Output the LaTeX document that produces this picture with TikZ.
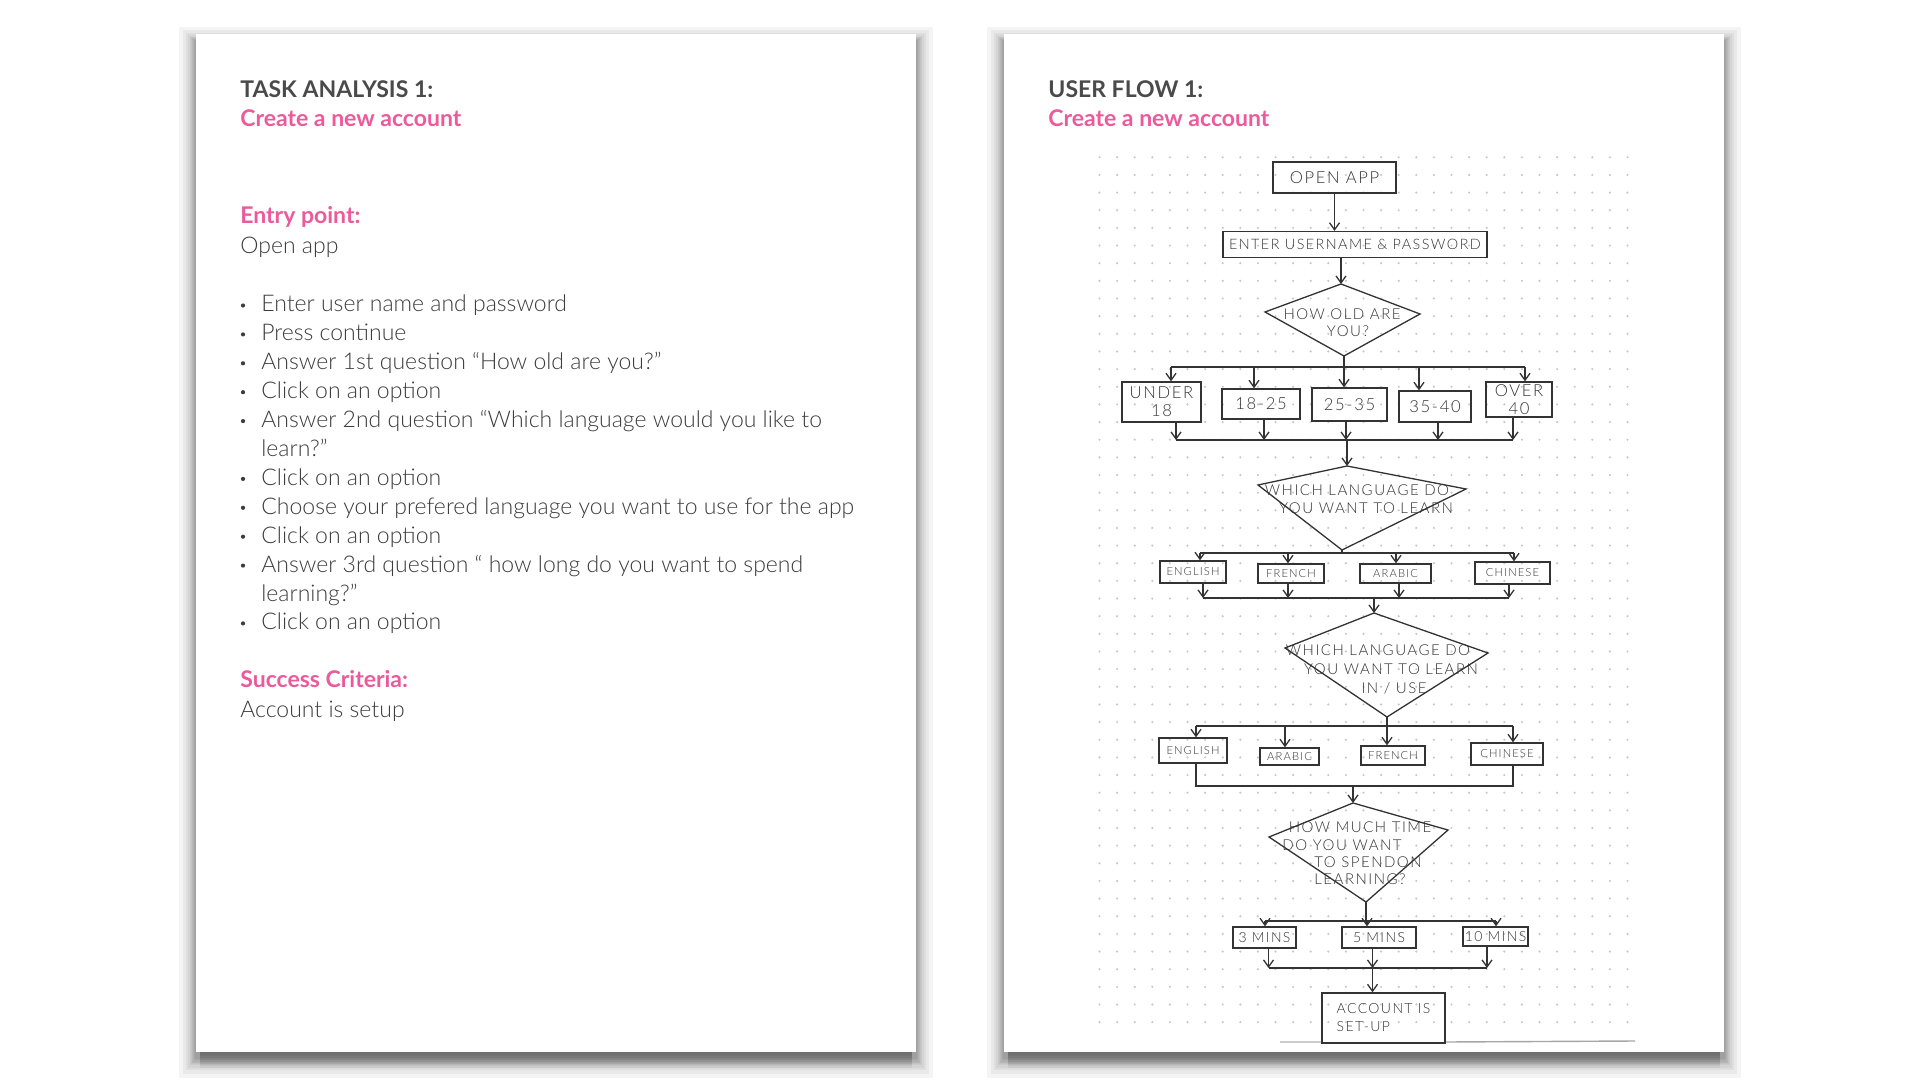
\documentclass[tikz,border=0pt]{standalone}
\usepackage{fontspec}
\IfFontExistsTF{Lato Light}{\setmainfont{Lato}[UprightFont={* Light},BoldFont={* Bold}]\newfontfamily\hand{Lato}[UprightFont={* Light},LetterSpace=10]}{\setmainfont{Lato}\newfontfamily\hand{Lato}[LetterSpace=10]}
\usetikzlibrary{arrows.meta,calc}
\definecolor{pinkc}{HTML}{EC5A9C}
\definecolor{headc}{HTML}{4A4A4A}
\definecolor{bodyc}{HTML}{3C3C3C}
\definecolor{penc}{HTML}{333333}
\definecolor{dotc}{HTML}{C8C8C8}
\begin{document}
\begin{tikzpicture}[x=0.5pt,y=-0.5pt,
  head/.style={anchor=base west,inner sep=0,font=\bfseries\fontsize{11.5}{14}\selectfont,text=headc},
  pinkhead/.style={anchor=base west,inner sep=0,font=\bfseries\fontsize{11.5}{14}\selectfont,text=pinkc},
  body/.style={anchor=base west,inner sep=0,font=\fontsize{11.5}{14}\selectfont,text=bodyc},
  bul/.style={circle,fill=bodyc,inner sep=0,minimum size=2.1pt},
  hand/.style={font=\hand\fontsize{7.5}{8.5}\selectfont,text=penc,inner sep=0},
  fbox/.style={draw=penc,line width=0.65pt,inner sep=0,font=\hand\fontsize{7.2}{8.5}\selectfont,text=penc,align=center},
  agebox/.style={fbox,font=\hand\fontsize{8.3}{9}\selectfont},
  sbox/.style={fbox,font=\hand\fontsize{5.6}{7}\selectfont},
  tbox/.style={fbox,font=\hand\fontsize{7}{8}\selectfont},
  pen/.style={draw=penc,line width=0.65pt},
  arr/.style={pen,-{Straight Barb[length=3.5pt,width=5pt]}}
]
\useasboundingbox (0,0) rectangle (1920,1080);
\fill[white] (0,0) rectangle (1920,1080);

% card shadows and cards
\foreach \cx in {196,1004}{
  \foreach \e in {17,13,10,8,6,5,4,3,2,1}
    \fill[black,opacity=0.045] ({\cx-\e},{42-0.9*\e}) rectangle ({\cx+720+\e},{1058+1.2*\e});
  \foreach \e in {1,...,8}
    \fill[black,opacity=0.045] ({\cx+4},1052) rectangle ({\cx+716},{1052+2*\e});
  \fill[white] (\cx,34) rectangle ({\cx+720},1052);
}

% ---------- left card ----------
\node[head] (ta) at (240,98) {TASK ANALYSIS 1:};
\node[pinkhead] (ta2) at (240,127) {Create a new account};
\node[pinkhead] (ep) at (240,224) {Entry point:};
\node[body] (oa) at (240,254) {Open app};
\foreach \k in {0,1,2,3,4,6,7,8,9,11}
  \node[bul] (b\k) at (243,{312+28.9*\k-6.5}) {};
\node[body] (l0) at (261,312) {Enter user name and password};
\node[body] (l1) at (261,340.9) {Press continue};
\node[body] (l2) at (261,369.8) {Answer 1st question “How old are you?”};
\node[body] (l3) at (261,398.7) {Click on an option};
\node[body] (l4) at (261,427.6) {Answer 2nd question “Which language would you like to};
\node[body] (l5) at (261,456.5) {learn?”};
\node[body] (l6) at (261,485.4) {Click on an option};
\node[body] (l7) at (261,514.3) {Choose your prefered language you want to use for the app};
\node[body] (l8) at (261,543.2) {Click on an option};
\node[body] (l9) at (261,572.1) {Answer 3rd question “ how long do you want to spend};
\node[body] (l10) at (261,601) {learning?”};
\node[body] (l11) at (261,629.9) {Click on an option};
\node[pinkhead] (sc) at (240,687) {Success Criteria:};
\node[body] (as) at (240,717) {Account is setup};

% ---------- right card ----------
\node[head] (uf) at (1048,98) {USER FLOW 1:};
\node[pinkhead] (uf2) at (1048,127) {Create a new account};

% dot grid
\foreach \i in {0,...,30}
  \foreach \j in {0,...,49}
    \fill[dotc] ({1099.5+17.6*\i},{157.3+17.65*\j}) circle[radius=0.6pt];
\draw[black!20,line width=0.7pt] (1280,1042) -- (1322,1042);
\draw[black!35,line width=0.7pt] (1445,1042) -- (1635,1041);

% boxes
\node[fbox,font=\hand\fontsize{8.3}{9}\selectfont,minimum width=61.5pt,minimum height=15.5pt] (open) at (1334.5,177.5) {OPEN APP};
\node[fbox,minimum width=132pt,minimum height=13pt] (enter) at (1355,244.5) {ENTER USERNAME \& PASSWORD};
\node[agebox,minimum width=39.5pt,minimum height=20pt] (u18) at (1161.5,402) {UNDER\\18};
\node[agebox,minimum width=39pt,minimum height=15pt] (a1825) at (1261,404) {18-25};
\node[agebox,minimum width=37.5pt,minimum height=16.5pt] (a2535) at (1349.5,404.5) {25-35};
\node[agebox,minimum width=36pt,minimum height=15.5pt] (a3540) at (1435,406.5) {35-40};
\node[agebox,minimum width=33pt,minimum height=17.5pt] (o40) at (1519,399.5) {OVER\\40};
\node[sbox,minimum width=33pt,minimum height=11pt] (eng1) at (1193,572) {ENGLISH};
\node[sbox,minimum width=33pt,minimum height=9.5pt] (fre1) at (1291,573.5) {FRENCH};
\node[sbox,minimum width=35.5pt,minimum height=9.5pt] (ara1) at (1395.5,573.5) {ARABIC};
\node[sbox,minimum width=37.5pt,minimum height=11pt] (chi1) at (1512.5,573) {CHINESE};
\node[sbox,minimum width=34pt,minimum height=12.5pt] (eng2) at (1193,750.5) {ENGLISH};
\node[sbox,minimum width=29.5pt,minimum height=8.5pt] (ara2) at (1289.5,756.5) {ARABIC};
\node[sbox,minimum width=32pt,minimum height=9.5pt] (fre2) at (1393,755.5) {FRENCH};
\node[sbox,minimum width=36pt,minimum height=11pt] (chi2) at (1507,754) {CHINESE};
\node[tbox,minimum width=31.5pt,minimum height=10.5pt] (m3) at (1264.5,937.5) {3 MINS};
\node[tbox,minimum width=37pt,minimum height=10.5pt] (m5) at (1379,937.5) {5 MINS};
\node[tbox,minimum width=32.5pt,minimum height=9.5pt] (m10) at (1495.5,936.5) {10 MINS};
\node[fbox,font=\hand\fontsize{7}{9}\selectfont,minimum width=61.5pt,minimum height=25pt,align=left] (acc) at (1383.5,1018) {ACCOUNT IS\\SET-UP};

% diamonds
\coordinate (d1t) at (1341,284); \coordinate (d1r) at (1420,314);
\coordinate (d1b) at (1344,356); \coordinate (d1l) at (1265,312);
\draw[pen] (d1t) -- (d1r) -- (d1b) -- (d1l) -- cycle;
\node[hand] (q1a) at (1342,314) {HOW OLD ARE};
\node[hand] (q1b) at (1348,331) {YOU?};

\coordinate (d2t) at (1347,466); \coordinate (d2r) at (1466,489);
\coordinate (d2b) at (1342,550); \coordinate (d2l) at (1258,485);
\draw[pen] (d2t) -- (d2r) -- (d2b) -- (d2l) -- cycle;
\node[hand] (q2a) at (1357,490) {WHICH LANGUAGE DO};
\node[hand] (q2b) at (1366,508) {YOU WANT TO LEARN};

\coordinate (d3t) at (1374,613); \coordinate (d3r) at (1488,653);
\coordinate (d3b) at (1387,717); \coordinate (d3l) at (1285,648);
\draw[pen] (d3t) -- (d3r) -- (d3b) -- (d3l) -- cycle;
\node[hand] (q3a) at (1378,650) {WHICH LANGUAGE DO};
\node[hand] (q3b) at (1391,669) {YOU WANT TO LEARN};
\node[hand] (q3c) at (1394,688) {IN / USE};

\coordinate (d4t) at (1353,803); \coordinate (d4r) at (1448,830);
\coordinate (d4b) at (1366,902); \coordinate (d4l) at (1269,837);
\draw[pen] (d4t) -- (d4r) -- (d4b) -- (d4l) -- cycle;
\node[hand] (q4a) at (1360,827) {HOW MUCH TIME};
\node[hand] (q4b) at (1342,845) {DO YOU WANT};
\node[hand] (q4c) at (1368,862) {TO SPENDON};
\node[hand] (q4d) at (1360,879) {LEARNING?};

% connectors
\draw[arr] (open.south) -- (open.south |- enter.north);
\draw[arr] (d1t |- enter.south) -- (d1t);

% ages
\coordinate (j1) at (1344,367);
\coordinate (j1a) at (1171,367); \coordinate (j1b) at (1254,367);
\coordinate (j1c) at (1344,367); \coordinate (j1d) at (1419,367);
\coordinate (j1e) at (1525,367);
\draw[pen] (d1b) -- (j1);
\draw[pen] (j1a) -- (j1e);
\draw[arr] (j1a) -- (j1a |- u18.north);
\draw[arr] (j1b) -- (j1b |- a1825.north);
\draw[arr] (j1c) -- (j1c |- a2535.north);
\draw[arr] (j1d) -- (j1d |- a3540.north);
\draw[arr] (j1e) -- (j1e |- o40.north);
\coordinate (k1a) at (1176,440); \coordinate (k1b) at (1264,440);
\coordinate (k1c) at (1346,440); \coordinate (k1d) at (1438,440);
\coordinate (k1e) at (1513,440);
\draw[arr] (k1a |- u18.south) -- (k1a);
\draw[arr] (k1b |- a1825.south) -- (k1b);
\draw[arr] (k1c |- a2535.south) -- (k1c);
\draw[arr] (k1d |- a3540.south) -- (k1d);
\draw[arr] (k1e |- o40.south) -- (k1e);
\draw[pen] (k1a) -- (k1e);
\draw[arr] (d2t |- k1c) -- (d2t);

% languages 1
\coordinate (j2) at (1342,553);
\coordinate (j2a) at (1200,553); \coordinate (j2b) at (1288,553);
\coordinate (j2c) at (1396,553); \coordinate (j2d) at (1514,553);
\draw[pen] (d2b) -- (j2);
\draw[pen] (j2a) -- (j2d);
\draw[arr] (j2a) -- (j2a |- eng1.north);
\draw[arr] (j2b) -- (j2b |- fre1.north);
\draw[arr] (j2c) -- (j2c |- ara1.north);
\draw[arr] (j2d) -- (j2d |- chi1.north);
\coordinate (k2a) at (1203,598); \coordinate (k2b) at (1288,598);
\coordinate (k2c) at (1399,598); \coordinate (k2d) at (1509,598);
\draw[arr] (k2a |- eng1.south) -- (k2a);
\draw[arr] (k2b |- fre1.south) -- (k2b);
\draw[arr] (k2c |- ara1.south) -- (k2c);
\draw[arr] (k2d |- chi1.south) -- (k2d);
\draw[pen] (k2a) -- (k2d);
\draw[arr] (d3t |- k2a) -- (d3t);

% languages 2
\coordinate (j3) at (1387,726);
\coordinate (j3a) at (1196,726); \coordinate (j3b) at (1285,726);
\coordinate (j3c) at (1387,726); \coordinate (j3d) at (1513,726);
\draw[pen] (d3b) -- (j3);
\draw[pen] (j3a) -- (j3d);
\draw[arr] (j3a) -- (j3a |- eng2.north);
\draw[arr] (j3b) -- (j3b |- ara2.north);
\draw[arr] (j3c) -- (j3c |- fre2.north);
\draw[arr] (j3d) -- (j3d |- chi2.north);
\coordinate (k3a) at (1196,786); \coordinate (k3d) at (1513,786);
\draw[pen] (k3a |- eng2.south) -- (k3a) -- (k3d) -- (k3d |- chi2.south);
\draw[arr] (d4t |- k3a) -- (d4t);

% time
\coordinate (j4) at (1366,921);
\coordinate (j4a) at (1265,921); \coordinate (j4b) at (1367,921);
\coordinate (j4c) at (1496,921);
\draw[pen] (d4b) -- (j4);
\draw[pen] (j4a) -- (j4c);
\draw[arr] (j4a) -- (j4a |- m3.north);
\draw[arr] (j4b) -- (j4b |- m5.north);
\draw[arr] (j4c) -- (j4c |- m10.north);
\coordinate (k4a) at (1268.5,968); \coordinate (k4b) at (1372.5,968);
\coordinate (k4c) at (1487,968);
\draw[arr] (k4a |- m3.south) -- (k4a);
\draw[arr] (k4b |- m5.south) -- (k4b);
\draw[arr] (k4c |- m10.south) -- (k4c);
\draw[pen] (k4a) -- (k4c);
\draw[arr] (k4b) -- (k4b |- acc.north);
\end{tikzpicture}
\end{document}
